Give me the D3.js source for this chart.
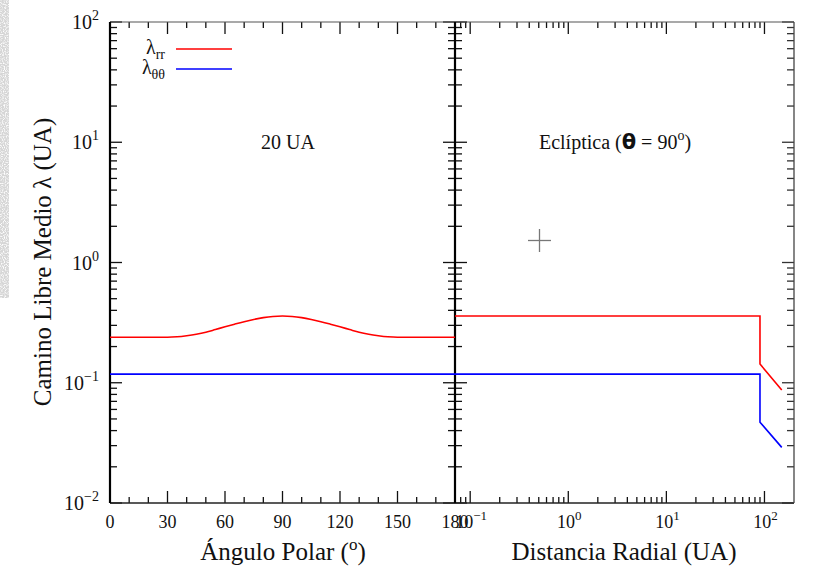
<!DOCTYPE html>
<html>
<head>
<meta charset="utf-8">
<script src="https://cdn.jsdelivr.net/npm/d3@7/dist/d3.min.js"></script>
<style>
  html, body { margin: 0; padding: 0; background: #fff; }
  svg { display: block; }
  text { font-family: "Liberation Serif", "Times New Roman", serif; fill: #111; }
</style>
</head>
<body>
<svg id="chart" width="818" height="573"></svg>
<script>
// Polar-angle profile at 20 UA
const thetaDeg = [0, 10, 20, 30, 35, 40, 45, 50, 55, 60, 65, 70, 75, 80, 85, 90,
                  95, 100, 105, 110, 115, 120, 125, 130, 135, 140, 145, 150, 160, 170, 180];
const lambdaRR_theta = [0.239, 0.239, 0.239, 0.239, 0.241, 0.246, 0.253, 0.263, 0.277, 0.292, 0.307, 0.322, 0.336, 0.348, 0.356, 0.359,
                        0.356, 0.348, 0.336, 0.322, 0.307, 0.292, 0.277, 0.263, 0.253, 0.246, 0.241, 0.239, 0.239, 0.239, 0.239];
const lambdaTT_theta = [0.118, 0.118, 0.118, 0.118, 0.118, 0.118, 0.118, 0.118, 0.118, 0.118, 0.118, 0.118, 0.118, 0.118, 0.118, 0.118,
                        0.118, 0.118, 0.118, 0.118, 0.118, 0.118, 0.118, 0.118, 0.118, 0.118, 0.118, 0.118, 0.118, 0.118, 0.118];

// Radial profile in the ecliptic plane
const radiusAU = [0.07, 90, 90, 150];
const lambdaRR_r = [0.359, 0.359, 0.143, 0.087];
const lambdaTT_r = [0.118, 0.118, 0.047, 0.029];

// Tick definitions
const thetaMajor = [0, 30, 60, 90, 120, 150, 180];
const thetaMinor = [10, 20, 40, 50, 70, 80, 100, 110, 130, 140, 160, 170];
const yMajorExp = [-2, -1, 0, 1, 2];
const rMajorExp = [-1, 0, 1, 2];
const mantissas = [2, 3, 4, 5, 6, 7, 8, 9];

const svg = d3.select("#chart");

// Panel frames
const pL = 110, pM = 455, pR = 794, pT = 22, pB = 503;

const xTheta = d3.scaleLinear().domain([0, 180]).range([pL, pM]);
const xR = d3.scaleLog().domain([0.07, 200]).range([pM, pR]);
const y = d3.scaleLog().domain([1e-2, 1e2]).range([pB, pT]);

// Grainy strip along the left edge
const defs = svg.append("defs");
const grain = defs.append("filter").attr("id", "grain").attr("x", 0).attr("y", 0).attr("width", 1).attr("height", 1);
grain.append("feTurbulence").attr("type", "fractalNoise").attr("baseFrequency", 0.9).attr("numOctaves", 1).attr("seed", 3).attr("result", "n");
grain.append("feColorMatrix").attr("in", "n").attr("type", "matrix")
  .attr("values", "0 0 0 0 1  0 0 0 0 1  0 0 0 0 1  0 0 0 3.5 -1.6").attr("result", "spots");
grain.append("feComposite").attr("in", "spots").attr("in2", "SourceGraphic").attr("operator", "atop");
svg.append("rect").attr("x", 0).attr("y", 0).attr("width", 9).attr("height", 298)
  .attr("fill", "#d6d6d6").attr("filter", "url(#grain)");

defs.append("clipPath").attr("id", "clipL").append("rect")
  .attr("x", pL).attr("y", pT).attr("width", pM - pL).attr("height", pB - pT);
defs.append("clipPath").attr("id", "clipR").append("rect")
  .attr("x", pM).attr("y", pT).attr("width", pR - pM).attr("height", pB - pT);

const yMinor = [];
yMajorExp.slice(0, -1).forEach(e => mantissas.forEach(m => yMinor.push(m * Math.pow(10, e))));
const rMinor = [0.08, 0.09];
rMajorExp.forEach(e => mantissas.forEach(m => {
  const v = m * Math.pow(10, e);
  if (v < 200) rMinor.push(v);
}));

const ticks = svg.append("g").attr("stroke", "#111").attr("stroke-width", 1.3);
const MAJ = 12, MIN = 6;

// Y ticks: left axis (inward), shared middle axis (both sides), right axis (inward)
yMajorExp.forEach(e => {
  const yy = y(Math.pow(10, e));
  ticks.append("line").attr("x1", pL).attr("x2", pL + MAJ).attr("y1", yy).attr("y2", yy);
  ticks.append("line").attr("x1", pM - MAJ).attr("x2", pM + MAJ).attr("y1", yy).attr("y2", yy);
  ticks.append("line").attr("x1", pR - MAJ).attr("x2", pR).attr("y1", yy).attr("y2", yy).attr("stroke", "#333");
});
yMinor.forEach(v => {
  const yy = y(v);
  ticks.append("line").attr("x1", pL).attr("x2", pL + MIN + 1).attr("y1", yy).attr("y2", yy);
  ticks.append("line").attr("x1", pM - MIN - 1).attr("x2", pM + MIN + 1).attr("y1", yy).attr("y2", yy);
  ticks.append("line").attr("x1", pR - MIN - 1).attr("x2", pR).attr("y1", yy).attr("y2", yy).attr("stroke", "#333");
});

// X ticks, angle panel
thetaMajor.forEach(t => {
  const xx = xTheta(t);
  ticks.append("line").attr("x1", xx).attr("x2", xx).attr("y1", pB).attr("y2", pB - MAJ);
  ticks.append("line").attr("x1", xx).attr("x2", xx).attr("y1", pT).attr("y2", pT + MAJ);
});
thetaMinor.forEach(t => {
  const xx = xTheta(t);
  ticks.append("line").attr("x1", xx).attr("x2", xx).attr("y1", pB).attr("y2", pB - MIN);
  ticks.append("line").attr("x1", xx).attr("x2", xx).attr("y1", pT).attr("y2", pT + MIN);
});

// X ticks, radial panel
rMajorExp.forEach(e => {
  const xx = xR(Math.pow(10, e));
  ticks.append("line").attr("x1", xx).attr("x2", xx).attr("y1", pB).attr("y2", pB - MAJ);
  ticks.append("line").attr("x1", xx).attr("x2", xx).attr("y1", pT).attr("y2", pT + MAJ);
});
rMinor.forEach(v => {
  const xx = xR(v);
  ticks.append("line").attr("x1", xx).attr("x2", xx).attr("y1", pB).attr("y2", pB - MIN);
  ticks.append("line").attr("x1", xx).attr("x2", xx).attr("y1", pT).attr("y2", pT + MIN);
});

// Frames
const frame = svg.append("g").attr("fill", "none");
frame.append("line").attr("x1", pL).attr("x2", pR).attr("y1", pT).attr("y2", pT).attr("stroke", "#555").attr("stroke-width", 1.2);
frame.append("line").attr("x1", pL).attr("x2", pR).attr("y1", pB).attr("y2", pB).attr("stroke", "#222").attr("stroke-width", 1.5);
frame.append("line").attr("x1", pL).attr("x2", pL).attr("y1", pT).attr("y2", pB).attr("stroke", "#000").attr("stroke-width", 2.2);
frame.append("line").attr("x1", pM).attr("x2", pM).attr("y1", pT).attr("y2", pB).attr("stroke", "#000").attr("stroke-width", 2.2);
frame.append("line").attr("x1", pR).attr("x2", pR).attr("y1", pT).attr("y2", pB).attr("stroke", "#444").attr("stroke-width", 1.3);

// Curves
const lineTheta = d3.line().x(d => xTheta(d[0])).y(d => y(d[1])).curve(d3.curveMonotoneX);
const lineR = d3.line().x(d => xR(d[0])).y(d => y(d[1]));

const gL = svg.append("g").attr("clip-path", "url(#clipL)").attr("fill", "none").attr("stroke-width", 1.6);
gL.append("path").attr("d", lineTheta(thetaDeg.map((t, i) => [t, lambdaRR_theta[i]]))).attr("stroke", "#ff0000");
gL.append("path").attr("d", lineTheta(thetaDeg.map((t, i) => [t, lambdaTT_theta[i]]))).attr("stroke", "#0000ff");

const gR = svg.append("g").attr("clip-path", "url(#clipR)").attr("fill", "none").attr("stroke-width", 1.6);
gR.append("path").attr("d", lineR(radiusAU.map((r, i) => [r, lambdaRR_r[i]]))).attr("stroke", "#ff0000");
gR.append("path").attr("d", lineR(radiusAU.map((r, i) => [r, lambdaTT_r[i]]))).attr("stroke", "#0000ff");

// Power-of-ten label helper
function powLabel(g, x, yy, exp, anchor, size) {
  const t = g.append("text").attr("x", x).attr("y", yy).attr("text-anchor", anchor).attr("font-size", size);
  t.append("tspan").text("10");
  t.append("tspan").attr("dy", -Math.round(size * 0.45)).attr("font-size", Math.round(size * 0.7))
    .text(exp < 0 ? "\u2212" + (-exp) : String(exp));
  return t;
}

const labels = svg.append("g");
yMajorExp.forEach(e => powLabel(labels, 99, y(Math.pow(10, e)) + 7, e, "end", 20));
thetaMajor.forEach(t => labels.append("text").attr("x", xTheta(t)).attr("y", 528)
  .attr("text-anchor", "middle").attr("font-size", 18).text(t));
rMajorExp.forEach(e => powLabel(labels, xR(Math.pow(10, e)) + 1, 528, e, "middle", 18));

// Axis titles
const tx1 = labels.append("text").attr("x", 283).attr("y", 560).attr("text-anchor", "middle").attr("font-size", 25);
tx1.append("tspan").text("Ángulo Polar (");
tx1.append("tspan").attr("dy", -10).attr("font-size", 17).text("o");
tx1.append("tspan").attr("dy", 10).text(")");

labels.append("text").attr("x", 624).attr("y", 560).attr("text-anchor", "middle").attr("font-size", 25)
  .text("Distancia Radial (UA)");

labels.append("text").attr("transform", "translate(51,262) rotate(-90)").attr("text-anchor", "middle")
  .attr("font-size", 25).text("Camino Libre Medio λ (UA)");

// Panel annotations
labels.append("text").attr("x", 288).attr("y", 149).attr("text-anchor", "middle").attr("font-size", 20).text("20 UA");
const ecl = labels.append("text").attr("x", 615).attr("y", 149).attr("text-anchor", "middle").attr("font-size", 20);
ecl.append("tspan").text("Eclíptica (");
ecl.append("tspan").attr("font-family", "DejaVu Sans").attr("font-weight", "bold").attr("font-size", 21).text("θ");
ecl.append("tspan").text(" = 90");
ecl.append("tspan").attr("dy", -9).attr("font-size", 14).text("o");
ecl.append("tspan").attr("dy", 9).text(")");

// Legend
const legendItems = [
  { sym: "λ", sub: "rr", color: "#ff0000", yy: 49 },
  { sym: "λ", sub: "θθ", color: "#0000ff", yy: 69 }
];
legendItems.forEach(d => {
  const t = labels.append("text").attr("x", 165).attr("y", d.yy + 5).attr("text-anchor", "end").attr("font-size", 20);
  t.append("tspan").text(d.sym);
  t.append("tspan").attr("dy", 5).attr("font-size", 14).text(d.sub);
  svg.append("line").attr("x1", 176).attr("x2", 232).attr("y1", d.yy).attr("y2", d.yy)
    .attr("stroke", d.color).attr("stroke-width", 1.6);
});

// Crosshair marker
const cross = svg.append("g").attr("stroke", "#777").attr("stroke-width", 1.3);
cross.append("line").attr("x1", 528).attr("x2", 551).attr("y1", 240.5).attr("y2", 240.5);
cross.append("line").attr("x1", 539.5).attr("x2", 539.5).attr("y1", 229).attr("y2", 252);
</script>
</body>
</html>
